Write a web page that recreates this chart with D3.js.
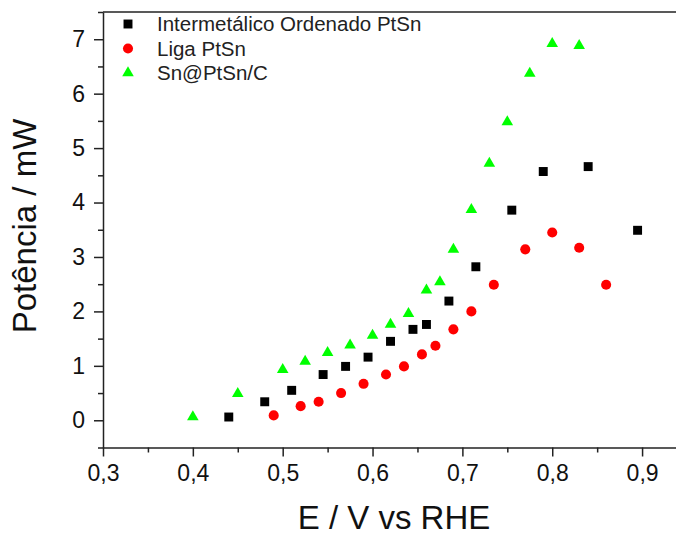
<!DOCTYPE html>
<meta charset="utf-8">
<script src="https://d3js.org/d3.v7.min.js"></script>
<style>
  body { margin: 0; background: #fff; }
  text { font-family: "Liberation Sans", Arial, sans-serif; }
</style>
<div id="chart"></div>
<script>
// data
var seriesNames = ["Intermetálico Ordenado PtSn", "Liga PtSn", "Sn@PtSn/C"];

var interX = [0.44, 0.48, 0.51, 0.545, 0.57, 0.595, 0.62, 0.645, 0.66, 0.685, 0.715, 0.755, 0.79, 0.84, 0.895];
var interY = [0.06, 0.34, 0.55, 0.84, 0.99, 1.16, 1.45, 1.67, 1.76, 2.19, 2.82, 3.86, 4.57, 4.66, 3.49];

var ligaX = [0.49, 0.52, 0.54, 0.565, 0.59, 0.615, 0.635, 0.655, 0.67, 0.69, 0.71, 0.735, 0.77, 0.80, 0.83, 0.86];
var ligaY = [0.09, 0.26, 0.34, 0.50, 0.67, 0.84, 0.99, 1.21, 1.37, 1.67, 2.00, 2.49, 3.14, 3.45, 3.17, 2.49];

var snX = [0.40, 0.45, 0.50, 0.525, 0.55, 0.575, 0.60, 0.62, 0.64, 0.66, 0.675, 0.69, 0.71, 0.73, 0.75, 0.775, 0.80, 0.83];
var snY = [0.06, 0.49, 0.93, 1.08, 1.24, 1.38, 1.56, 1.76, 1.96, 2.39, 2.54, 3.14, 3.87, 4.72, 5.48, 6.37, 6.92, 6.88];

var xTicks = [0.3, 0.4, 0.5, 0.6, 0.7, 0.8, 0.9];
var xMinor = [0.35, 0.45, 0.55, 0.65, 0.75, 0.85];
var yTicks = [0, 1, 2, 3, 4, 5, 6, 7];
var yMinor = [-0.5, 0.5, 1.5, 2.5, 3.5, 4.5, 5.5, 6.5, 7.5];

var width = 676, height = 536;
var plotLeft = 103, plotTop = 12, plotBottom = 447.5, plotRight = 687;

var svg = d3.select("#chart").append("svg")
  .attr("width", width)
  .attr("height", height);

var x = d3.scaleLinear().domain([0.3, 0.95]).range([plotLeft, plotRight]);
var y = d3.scaleLinear().domain([-0.5, 7.5]).range([plotBottom, plotTop]);

var pt = d3.formatLocale({decimal: ",", thousands: ".", grouping: [3], currency: ["", ""]});
var fmt = pt.format(".1f");

// frame top line
svg.append("line")
  .attr("x1", plotLeft).attr("x2", width)
  .attr("y1", plotTop).attr("y2", plotTop)
  .attr("stroke", "#222").attr("stroke-width", 1.5);

// x axis
svg.append("g").attr("transform", "translate(0," + plotBottom + ")")
  .call(d3.axisBottom(x).tickValues(xTicks).tickFormat(fmt).tickSize(9).tickSizeOuter(0).tickPadding(8));
svg.append("g").attr("transform", "translate(0," + plotBottom + ")")
  .call(d3.axisBottom(x).tickValues(xMinor).tickFormat("").tickSize(5).tickSizeOuter(0))
  .select(".domain").remove();

// y axis
svg.append("g").attr("transform", "translate(" + plotLeft + ",0)")
  .call(d3.axisLeft(y).tickValues(yTicks).tickFormat(d3.format("d")).tickSize(9).tickSizeOuter(0).tickPadding(9));
svg.append("g").attr("transform", "translate(" + plotLeft + ",0)")
  .call(d3.axisLeft(y).tickValues(yMinor).tickFormat("").tickSize(5).tickSizeOuter(0))
  .select(".domain").remove();

svg.selectAll(".domain, .tick line").attr("stroke", "#222").attr("stroke-width", 1.5);
svg.selectAll(".tick text").attr("font-size", 23).attr("fill", "#111")
  .attr("font-family", "Liberation Sans, Arial, sans-serif");

// axis titles
svg.append("text")
  .attr("x", 394).attr("y", 529)
  .attr("text-anchor", "middle")
  .attr("font-size", 33).attr("fill", "#111")
  .text("E / V vs RHE");

svg.append("text")
  .attr("transform", "translate(36,226) rotate(-90)")
  .attr("text-anchor", "middle")
  .attr("font-size", 33).attr("fill", "#111")
  .text("Potência / mW");

// series
var series = [
  {name: seriesNames[0], xs: interX, ys: interY, color: "#000000", sym: d3.symbolSquare, size: 80},
  {name: seriesNames[1], xs: ligaX, ys: ligaY, color: "#ff0000", sym: d3.symbolCircle, size: 80},
  {name: seriesNames[2], xs: snX, ys: snY, color: "#00ff00", sym: d3.symbolTriangle, size: 58}
];

series.forEach(function(s) {
  var pts = s.xs.map(function(v, i) { return [v, s.ys[i]]; });
  svg.append("g").selectAll("path")
    .data(pts)
    .enter().append("path")
      .attr("d", d3.symbol().type(s.sym).size(s.size))
      .attr("transform", function(d) { return "translate(" + x(d[0]) + "," + y(d[1]) + ")"; })
      .attr("fill", s.color);
});

// legend
var leg = svg.append("g");
series.forEach(function(s, i) {
  var ly = 24 + i * 24.5;
  leg.append("path")
    .attr("d", d3.symbol().type(s.sym).size(s.size))
    .attr("transform", "translate(128," + ly + ")")
    .attr("fill", s.color);
  leg.append("text")
    .attr("x", 157).attr("y", ly + 7)
    .attr("font-size", 20.5).attr("fill", "#222")
    .text(s.name);
});
</script>
